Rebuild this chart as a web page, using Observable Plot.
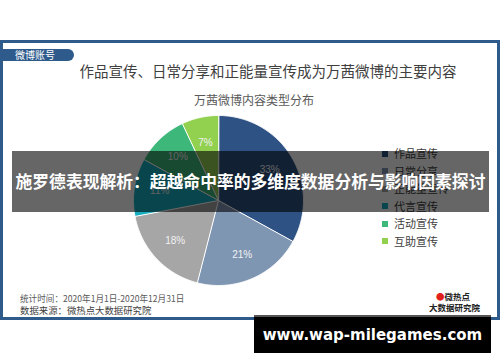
<!DOCTYPE html>
<html>
<head>
<meta charset="utf-8">
<script src="https://cdn.jsdelivr.net/npm/d3@7"></script>
<script src="https://cdn.jsdelivr.net/npm/@observablehq/plot@0.6"></script>
<style>
  html, body { margin: 0; padding: 0; background: #fff; }
  body { width: 500px; height: 362px; position: relative; overflow: hidden;
         font-family: "Noto Sans CJK SC", "Noto Sans", sans-serif; }
  .abs { position: absolute; }
  #frame { left: 0; top: 40px; width: 494px; height: 274px; border: 3px solid #2e5a8c; }
  #tab { left: 0; top: 49px; width: 74px; height: 12px; background: #2e5a8c; border-radius: 0 7px 7px 0;
         color: #fff; font-size: 10px; line-height: 12px; padding-left: 15px; box-sizing: border-box; }
  #title { left: 0; width: 536px; top: 61px; text-align: center; font-size: 14.5px; color: #404040; line-height: 20px; }
  #subtitle { left: 0; width: 508px; top: 92px; text-align: center; font-size: 12px; color: #595959; line-height: 16px; }
  #chart { left: 128px; top: 110px; }
  #legend { left: 382px; top: 145px; font-size: 11px; color: #404040; }
  .item { height: 17.5px; line-height: 17.5px; display: flex; align-items: center; }
  .sw { width: 6px; height: 6px; margin-right: 6px; }
  #time { left: 20px; top: 292px; font-size: 8.6px; color: #595959; line-height: 12px; }
  #source { left: 20px; top: 303px; font-size: 9.4px; color: #404040; line-height: 14px; }
  #logo1 { left: 436px; top: 291px; font-size: 8.5px; font-weight: bold; color: #222; line-height: 11px; }
  #logo1 span { color: #e0201a; }
  #logo2 { left: 429px; top: 302px; font-size: 8.5px; font-weight: bold; color: #222; line-height: 11px; }
  #band { left: 12px; top: 151px; width: 477px; height: 61px; background: rgba(0,0,0,0.6);
          color: #fff; font-weight: bold; font-size: 16.8px; text-align: center; line-height: 61px; white-space: nowrap; }
  #wm { left: 254px; top: 315px; width: 237px; height: 38px; background: #000; border-top: 2px solid #555; box-sizing: border-box;
        color: #fff; font-family: "DejaVu Sans", sans-serif; font-weight: bold; font-size: 15px; text-align: center;
        line-height: 36px; white-space: nowrap; }
</style>
</head>
<body>
<div id="frame" class="abs"></div>
<div id="tab" class="abs">微博账号</div>
<div id="title" class="abs"></div>
<div id="subtitle" class="abs"></div>
<div id="chart" class="abs"></div>
<div id="legend" class="abs"></div>
<div id="time" class="abs"></div>
<div id="source" class="abs"></div>
<div id="logo1" class="abs"><span>●</span>微热点</div>
<div id="logo2" class="abs">大数据研究院</div>
<div id="band" class="abs"></div>
<div id="wm" class="abs"></div>
<script>
const titleText = "作品宣传、日常分享和正能量宣传成为万茜微博的主要内容";
const subtitleText = "万茜微博内容类型分布";
const categories = ["作品宣传", "日常分享", "正能量宣传", "代言宣传", "活动宣传", "互助宣传"];
const shares = [33, 21, 18, 11, 10, 7];
const colors = ["#2e5283", "#7f96b3", "#a6a6a6", "#17adc0", "#3db77a", "#92d050"];
const timeText = "统计时间：2020年1月1日-2020年12月31日";
const sourceText = "数据来源：微热点大数据研究院";
const bandText = "施罗德表现解析：超越命中率的多维度数据分析与影响因素探讨";
const watermark = "www.wap-milegames.com";

document.getElementById("title").textContent = titleText;
document.getElementById("subtitle").textContent = subtitleText;
document.getElementById("time").textContent = timeText;
document.getElementById("source").textContent = sourceText;
document.getElementById("band").textContent = bandText;
document.getElementById("wm").textContent = watermark;

const data = categories.map((c, i) => ({cat: c, share: shares[i]}));
const arcs = d3.pie().sort(null).value(d => d.share)(data);

// polygon outline of each slice in unit-circle data space (angle 0 = top, clockwise)
const outline = [];
arcs.forEach(a => {
  outline.push({cat: a.data.cat, x: 0, y: 0});
  const n = Math.max(2, Math.ceil((a.endAngle - a.startAngle) / 0.01));
  for (let k = 0; k <= n; k++) {
    const t = a.startAngle + (a.endAngle - a.startAngle) * k / n;
    outline.push({cat: a.data.cat, x: Math.sin(t), y: Math.cos(t)});
  }
});
const labels = arcs.map(a => {
  const m = (a.startAngle + a.endAngle) / 2;
  return {cat: a.data.cat, x: 0.7 * Math.sin(m), y: 0.7 * Math.cos(m), text: a.data.share + "%"};
});

const chart = Plot.plot({
  width: 180, height: 180, margin: 5,
  x: {domain: [-1, 1], axis: null},
  y: {domain: [-1, 1], axis: null},
  color: {domain: categories, range: colors},
  style: {background: "transparent", overflow: "visible"},
  marks: [
    Plot.line(outline, {x: "x", y: "y", z: "cat", fill: "cat", stroke: "white", strokeWidth: 1, curve: "linear-closed"}),
    Plot.text(labels, {x: "x", y: "y", text: "text", fill: "#f2f2f2", fontSize: 10,
                       fontFamily: "Liberation Sans, Arial, sans-serif"})
  ]
});
document.getElementById("chart").appendChild(chart);

const legend = document.getElementById("legend");
categories.forEach((c, i) => {
  const item = document.createElement("div");
  item.className = "item";
  const sw = document.createElement("div");
  sw.className = "sw";
  sw.style.background = colors[i];
  const t = document.createElement("span");
  t.textContent = c;
  item.appendChild(sw); item.appendChild(t);
  legend.appendChild(item);
});
</script>
</body>
</html>
